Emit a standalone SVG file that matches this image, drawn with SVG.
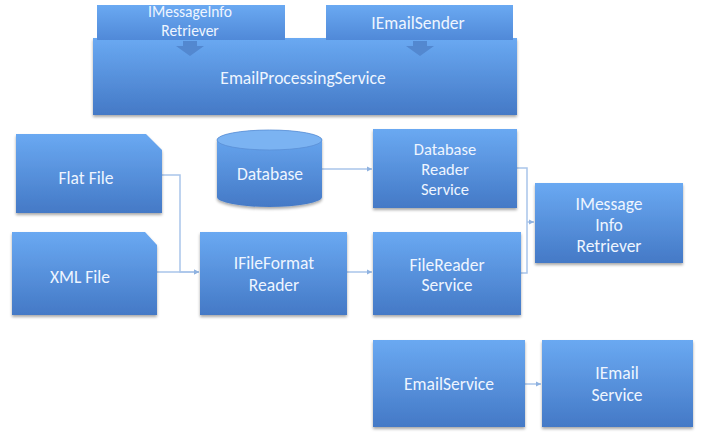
<svg xmlns="http://www.w3.org/2000/svg" width="701" height="433" viewBox="0 0 701 433">
<defs>
<linearGradient id="g" x1="0" y1="0" x2="0" y2="1">
<stop offset="0" stop-color="#6aa9f2"/>
<stop offset="1" stop-color="#4479c6"/>
</linearGradient>
<linearGradient id="gs" x1="0" y1="0" x2="0" y2="1">
<stop offset="0" stop-color="#6aa9f2"/>
<stop offset="1" stop-color="#5089d8"/>
</linearGradient>
<filter id="sh" x="-10%" y="-10%" width="120%" height="130%">
<feGaussianBlur in="SourceAlpha" stdDeviation="1.5"/>
<feOffset dx="0" dy="2" result="b"/>
<feComponentTransfer><feFuncA type="linear" slope="0.35"/></feComponentTransfer>
<feMerge><feMergeNode/><feMergeNode in="SourceGraphic"/></feMerge>
</filter>
<marker id="ah" markerWidth="6" markerHeight="6" refX="5" refY="3" orient="auto" markerUnits="userSpaceOnUse">
<path d="M0,0.5 L5,3 L0,5.5 z" fill="#8fb2e0"/>
</marker>
</defs>
<style>
.n{fill:url(#g);filter:url(#sh)}
.t{fill:#eef5ff;font-family:Calibri,Carlito,Lato,"Liberation Sans",sans-serif;font-size:17.5px;text-anchor:middle}
.s{font-size:16.5px}
.xs{font-size:15.5px}
.c{fill:none;stroke:#a9c5ea;stroke-width:1.5}
</style>
<g id="emailProcessingService">
<rect class="n" x="93" y="38" width="424" height="77"/>
<text class="t" x="303" y="84">EmailProcessingService</text>
</g>
<g id="iMessageInfoRetrieverTop">
<rect x="97" y="5" width="188" height="35" fill="url(#gs)"/>
<text class="t xs" x="190" y="17">IMessageInfo</text>
<text class="t xs" x="190" y="36">Retriever</text>
<path d="M183,41 h14 v5 h7 l-14,10 l-14,-10 h7 z" fill="#5388d0"/>
</g>
<g id="iEmailSenderTop">
<rect x="326" y="5" width="187" height="35" fill="url(#gs)"/>
<text class="t" x="418" y="29">IEmailSender</text>
<path d="M413,41 h14 v5 h7 l-14,10 l-14,-10 h7 z" fill="#5388d0"/>
</g>
<g id="connectors">
<path class="c" d="M162,175 H180 V272 H199" marker-end="url(#ah)"/>
<path class="c" d="M157,272 H199" marker-end="url(#ah)"/>
<path class="c" d="M322,169 H372" marker-end="url(#ah)"/>
<path class="c" d="M347,272 H372" marker-end="url(#ah)"/>
<path class="c" d="M517,168 H527 V273 H521"/>
<path class="c" d="M527,222 H534" marker-end="url(#ah)"/>
<path class="c" d="M525,384 H541" marker-end="url(#ah)"/>
</g>
<g id="flatFile">
<path class="n" d="M16,134 H146 L162,150 V213 H16 z"/>
<text class="t" x="86" y="184">Flat File</text>
</g>
<g id="xmlFile">
<path class="n" d="M12,232 H145 L157,245 V315 H12 z"/>
<text class="t" x="80" y="283">XML File</text>
</g>
<g id="database">
<path class="n" d="M217,140 A52.5,10 0 0 1 322,140 V197 A52.5,10 0 0 1 217,197 z"/>
<ellipse cx="269.5" cy="140" rx="52.5" ry="10" fill="#7bb3f2" stroke="#5a8fd6" stroke-width="0.8"/>
<text class="t" x="270" y="180">Database</text>
</g>
<g id="iFileFormatReader">
<rect class="n" x="200" y="232" width="147" height="83"/>
<text class="t" x="274" y="269">IFileFormat</text>
<text class="t" x="274" y="291">Reader</text>
</g>
<g id="databaseReaderService">
<rect class="n" x="373" y="129" width="144" height="79"/>
<text class="t s" x="445" y="155">Database</text>
<text class="t s" x="445" y="175">Reader</text>
<text class="t s" x="445" y="195">Service</text>
</g>
<g id="fileReaderService">
<rect class="n" x="373" y="232" width="148" height="83"/>
<text class="t" x="447" y="271">FileReader</text>
<text class="t" x="447" y="291">Service</text>
</g>
<g id="iMessageInfoRetriever">
<rect class="n" x="535" y="183" width="148" height="80"/>
<text class="t" x="609" y="210">IMessage</text>
<text class="t" x="609" y="231">Info</text>
<text class="t" x="609" y="252">Retriever</text>
</g>
<g id="emailService">
<rect class="n" x="373" y="340" width="152" height="87"/>
<text class="t" x="449" y="390">EmailService</text>
</g>
<g id="iEmailService">
<rect class="n" x="542" y="340" width="151" height="87"/>
<text class="t" x="617" y="379">IEmail</text>
<text class="t" x="617" y="401">Service</text>
</g>
</svg>
